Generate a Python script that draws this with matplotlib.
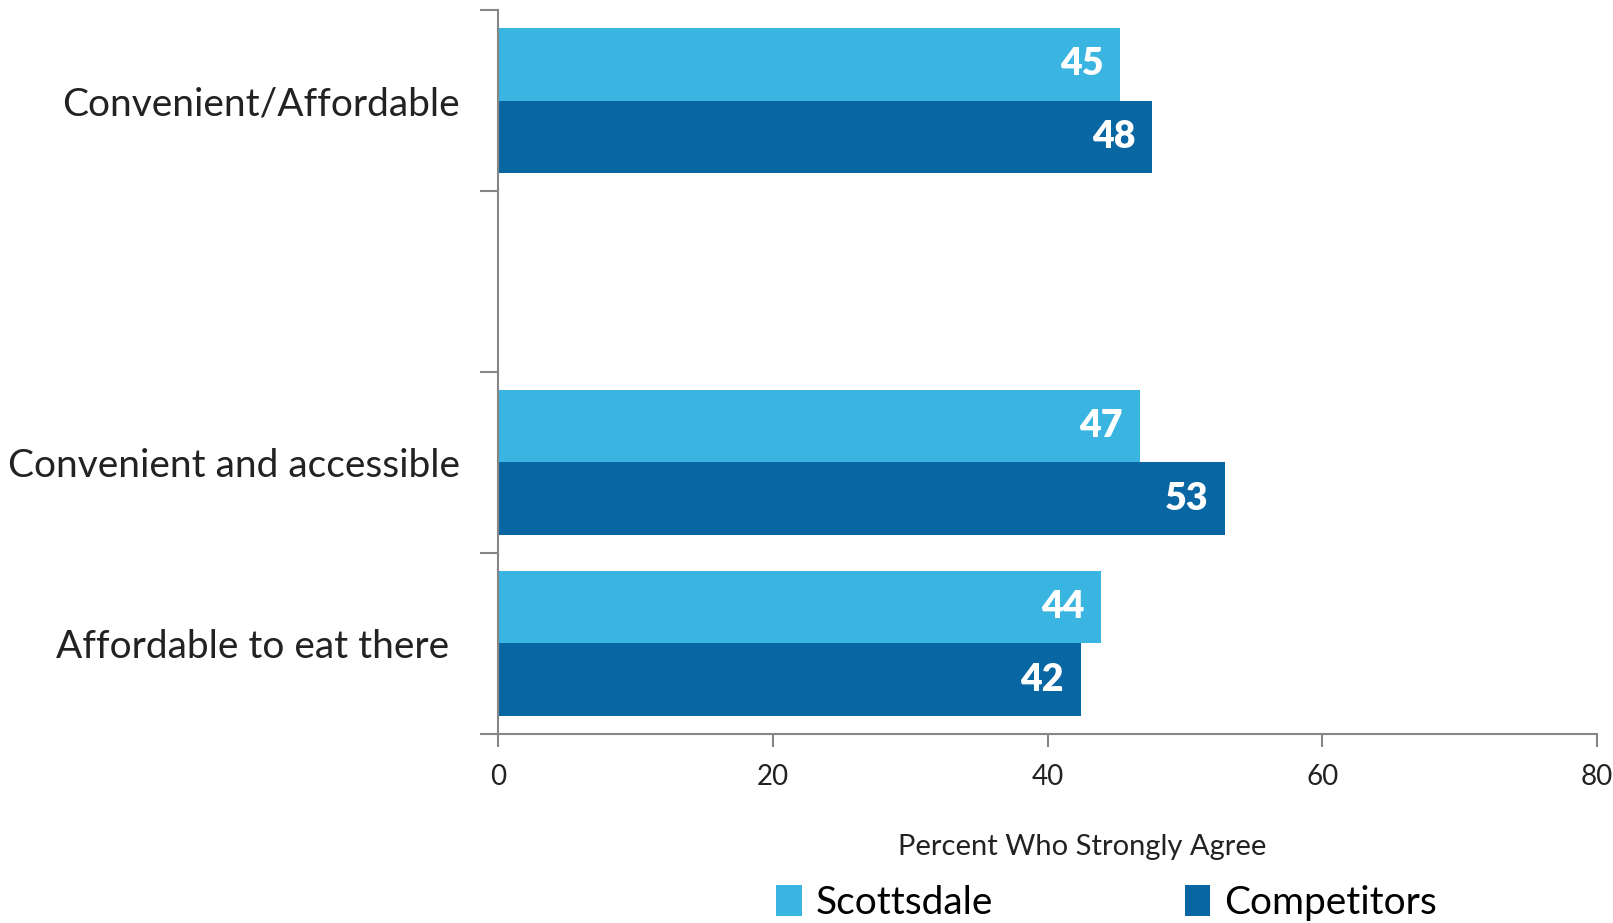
import numpy as np
import matplotlib
matplotlib.use("Agg")
import matplotlib.pyplot as plt

plt.rcParams["font.family"] = ["Lato", "DejaVu Sans"]

# data (top to bottom; the empty slot is kept as in the original chart)
categories = ["Convenient/Affordable", "", "Convenient and accessible", "Affordable to eat there "]
scottsdale = [45.3, np.nan, 46.7, 43.9]
competitors = [47.6, np.nan, 52.9, 42.4]
series_names = ["Scottsdale", "Competitors"]
x_ticks = [0, 20, 40, 60, 80]

c_light = "#3AB4E0"
c_dark = "#0866A3"
grey = "#868686"

fig = plt.figure(figsize=(16.13, 9.23), dpi=100)
ax = fig.add_axes([0.309, 0.205, 0.681, 0.784])

y = np.arange(len(categories))
h = 0.4
b1 = ax.barh(y - h / 2, scottsdale, height=h, color=c_light, label=series_names[0])
b2 = ax.barh(y + h / 2, competitors, height=h, color=c_dark, label=series_names[1])

# value labels inside the bar ends
for bars, vals in [(b1, scottsdale), (b2, competitors)]:
    for bar, v in zip(bars, vals):
        if np.isnan(v):
            continue
        ax.annotate(f"{v:.0f}", (v, bar.get_y() + bar.get_height() / 2),
                    xytext=(-12, 0), textcoords="offset points",
                    ha="right", va="center", color="white",
                    fontsize=27, fontweight="heavy")

ax.set_xlim(0, 80)
ax.set_ylim(len(categories) - 0.5, -0.5)
ax.set_xticks(x_ticks)
ax.set_xticklabels([str(t) for t in x_ticks], fontsize=20, color="#222222")

# tick marks on the category boundaries, labels in the middle
ax.set_yticks(np.arange(len(categories) + 1) - 0.5)
ax.set_yticklabels([])
ax.set_yticks(y, minor=True)
ax.set_yticklabels(categories, minor=True, fontsize=28, color="#222222")
ax.tick_params(axis="y", which="minor", length=0, pad=28)
ax.tick_params(axis="y", which="major", length=13, width=1.5, color=grey)
ax.tick_params(axis="x", length=9, width=1.5, color=grey, pad=13)

for s in ["top", "right"]:
    ax.spines[s].set_visible(False)
for s in ["left", "bottom"]:
    ax.spines[s].set_color(grey)
    ax.spines[s].set_linewidth(1.5)

fig.text(0.671, 0.082, "Percent Who Strongly Agree", ha="center", va="center",
         fontsize=21, color="#222222")

fig.legend(handles=[b1, b2], loc="center", bbox_to_anchor=(0.686, 0.022), ncol=2,
           frameon=False, fontsize=28, handlelength=0.65, handleheight=0.85,
           handletextpad=0.35, columnspacing=4.95)

fig.savefig("out.png", dpi=100)
